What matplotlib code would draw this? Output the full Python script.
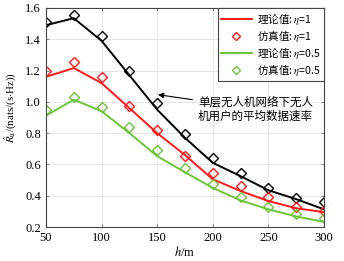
import matplotlib.pyplot as plt

plt.rcParams['font.family'] = ['Liberation Serif', 'Noto Sans CJK SC', 'DejaVu Sans']
plt.rcParams['mathtext.fontset'] = 'stix'

h = [50, 75, 100, 125, 150, 175, 200, 225, 250, 275, 300]

theory_single = [1.49, 1.535, 1.39, 1.17, 0.95, 0.77, 0.61, 0.525, 0.435, 0.378, 0.313]
sim_single = [1.513, 1.553, 1.42, 1.20, 0.99, 0.793, 0.64, 0.545, 0.447, 0.383, 0.358]

theory_eta1 = [1.16, 1.216, 1.12, 0.96, 0.80, 0.66, 0.505, 0.43, 0.366, 0.32, 0.295]
sim_eta1 = [1.195, 1.256, 1.16, 0.976, 0.82, 0.653, 0.547, 0.462, 0.39, 0.33, 0.305]

theory_eta05 = [0.912, 1.014, 0.94, 0.80, 0.653, 0.55, 0.45, 0.37, 0.313, 0.267, 0.233]
sim_eta05 = [0.946, 1.03, 0.97, 0.84, 0.695, 0.574, 0.473, 0.392, 0.33, 0.28, 0.26]

red = '#ff1a1a'
green = '#6cc43a'

fig = plt.figure(figsize=(3.44, 2.61), dpi=100)
ax = fig.add_axes([46 / 344, 1 - 227 / 261, (324 - 46) / 344, (227 - 8) / 261])

mk = dict(marker='D', markersize=5, markerfacecolor='none', markeredgewidth=1.0, linestyle='none')

ax.plot(h, theory_single, color='black', linewidth=1.4)
ax.plot(h, sim_single, color='black', **mk)
ax.plot(h, theory_eta1, color=red, linewidth=1.4, label='理论值: $\\eta$=1')
ax.plot(h, sim_eta1, color=red, label='仿真值: $\\eta$=1', **mk)
ax.plot(h, theory_eta05, color=green, linewidth=1.4, label='理论值: $\\eta$=0.5')
ax.plot(h, sim_eta05, color=green, label='仿真值: $\\eta$=0.5', **mk)

ax.set_xlim(50, 300)
ax.set_ylim(0.2, 1.6)
ax.set_xticks([50, 100, 150, 200, 250, 300])
ax.set_yticks([0.2, 0.4, 0.6, 0.8, 1.0, 1.2, 1.4, 1.6])
ax.set_yticklabels(['0.2', '0.4', '0.6', '0.8', '1.0', '1.2', '1.4', '1.6'])
ax.tick_params(labelsize=9, direction='in', length=2, color='#888888', right=True, top=True)
ax.grid(True, color='#e6e6e6', linewidth=0.7)
for s in ax.spines.values():
    s.set_color('#444444')
    s.set_linewidth(0.8)

ax.set_xlabel('$h$/m', fontsize=9, labelpad=1)
ax.set_ylabel('$\\hat{R}_\\mathrm{u}$/(nats/(s$\\cdot$Hz))', fontsize=7.8)
ax.yaxis.set_label_coords(-0.1, 0.545)

leg = ax.legend(loc='upper right', handlelength=2.9, handletextpad=0.5, markerscale=0.75,
                borderaxespad=0, borderpad=0.3, fancybox=False, framealpha=1, edgecolor='#444444',
                labelspacing=0.08, prop={'family': ['Noto Sans CJK SC', 'DejaVu Sans'], 'size': 7.6})
leg.get_frame().set_linewidth(0.8)

ax.annotate('单层无人机网络下无人\n机用户的平均数据速率', xy=(150.7, 1.046), xytext=(186.7, 0.955),
            fontsize=8.3, family=['Noto Sans CJK SC', 'DejaVu Sans'], va='center', ha='left',
            linespacing=1.1,
            arrowprops=dict(arrowstyle='-|>', color='black', linewidth=0.8, mutation_scale=8,
                            shrinkA=2, shrinkB=0))

fig.savefig('out.png', dpi=100)
